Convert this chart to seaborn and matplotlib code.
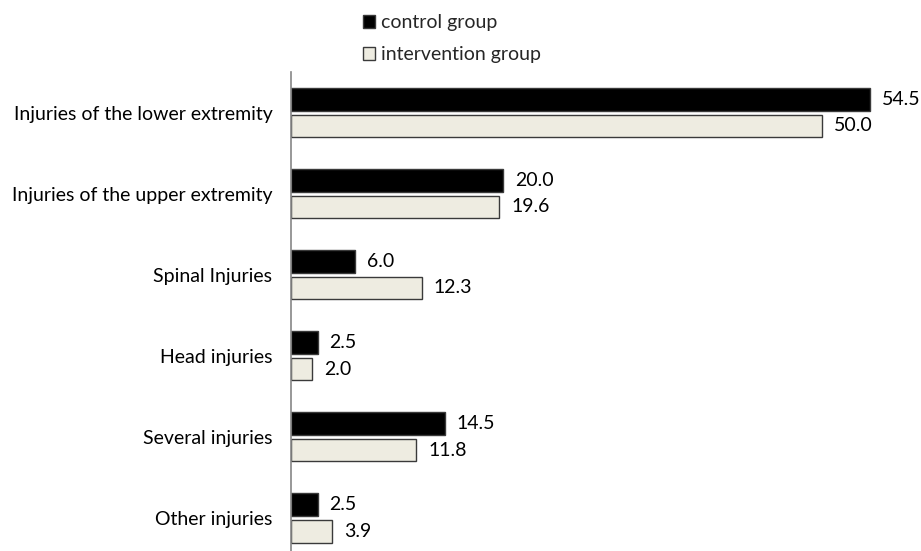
import matplotlib
matplotlib.use("Agg")
import matplotlib.pyplot as plt
import seaborn as sns
import pandas as pd
from matplotlib.patches import Patch

categories = [
    "Injuries of the lower extremity",
    "Injuries of the upper extremity",
    "Spinal Injuries",
    "Head injuries",
    "Several injuries",
    "Other injuries",
]
groups = ["control group", "intervention group"]
control_values = [54.5, 20.0, 6.0, 2.5, 14.5, 2.5]
intervention_values = [50.0, 19.6, 12.3, 2.0, 11.8, 3.9]

df = pd.DataFrame({
    "category": categories * 2,
    "group": [groups[0]] * len(categories) + [groups[1]] * len(categories),
    "value": control_values + intervention_values,
})

sns.set_theme(style="white")
plt.rcParams["font.family"] = ["Lato", "DejaVu Sans"]

FS = 14

fig = plt.figure(figsize=(9.21, 5.51), dpi=100)
ax = fig.add_axes([291 / 921, 0.0, 1 - 291 / 921, 1 - 72 / 551])

palette = {groups[0]: "#000000", groups[1]: "#EEECE1"}
sns.barplot(
    data=df, y="category", x="value", hue="group", order=categories,
    hue_order=groups, palette=palette, orient="h", width=0.66, gap=0.15,
    edgecolor="#3a3a3a", linewidth=1.0, saturation=1, legend=False, ax=ax,
)

ax.set_xlim(0, 59.3)
ax.set_ylim(5.41, -0.5)
ax.set_xlabel("")
ax.set_ylabel("")
ax.set_xticks([])
ax.tick_params(axis="y", length=0, pad=13.5, labelsize=FS, labelcolor="#000000")
for side in ["top", "right", "bottom"]:
    ax.spines[side].set_visible(False)
ax.spines["left"].set_color("#868686")
ax.spines["left"].set_linewidth(1.2)

for container in ax.containers:
    ax.bar_label(container, fmt="%.1f", padding=8.5, fontsize=FS, color="#000000")

handles = [Patch(facecolor=palette[g], edgecolor="#3a3a3a", linewidth=1.0) for g in groups]
fig.legend(
    handles, groups, loc="upper left", bbox_to_anchor=(347 / 921, 1.003),
    frameon=False, fontsize=FS, handlelength=0.65, handleheight=0.65,
    handletextpad=0.3, labelspacing=0.8, borderpad=0.3,
)

fig.savefig("out.png", dpi=100)
